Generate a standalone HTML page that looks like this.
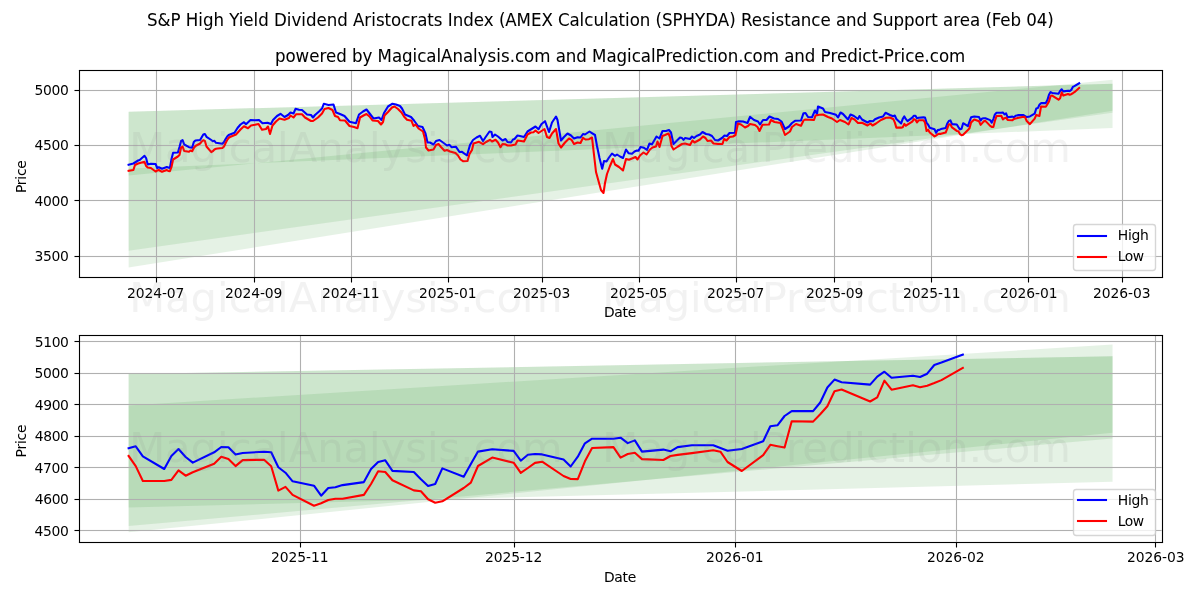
<!DOCTYPE html>
<html lang="en"><head><meta charset="utf-8"><title>S&amp;P High Yield Dividend Aristocrats Index (SPHYDA) Resistance and Support area</title>
<style>html,body{margin:0;padding:0;background:#fff;overflow:hidden}svg{display:block}</style></head>
<body>
<svg width="1200" height="600" viewBox="0 0 1200 600">
<rect width="1200" height="600" fill="#fff"/>
<clipPath id="c1"><rect x="79.4" y="70.33" width="1082.36" height="206.56"/></clipPath>
<g clip-path="url(#c1)">
<path d="M128.6 111.7 L1112.57 83.85 L1112.57 110.73 L128.6 267.5 Z" fill="#008000" fill-opacity="0.1"/>
<path d="M128.6 111.7 L1112.57 83.85 L1112.57 112.72 L128.6 250.7 Z" fill="#008000" fill-opacity="0.1"/>
<path d="M128.6 175.6 L1112.57 79.72 L1112.57 127.93 L128.6 168.5 Z" fill="#008000" fill-opacity="0.1"/>
<path d="M156.5 276.89V70.33M254.5 276.89V70.33M351.5 276.89V70.33M448.5 276.89V70.33M542.5 276.89V70.33M639.5 276.89V70.33M736.5 276.89V70.33M834.5 276.89V70.33M931.5 276.89V70.33M1028.5 276.89V70.33M1122.5 276.89V70.33" fill="none" stroke="#b0b0b0" stroke-width="1.111" stroke-linecap="square"/>
<path d="M79.4 256.5H1161.76M79.4 200.5H1161.76M79.4 145.5H1161.76M79.4 90.5H1161.76" fill="none" stroke="#b0b0b0" stroke-width="1"/>
<path d="M79.4 256.5H1161.76M79.4 200.5H1161.76M79.4 145.5H1161.76M79.4 90.5H1161.76" fill="none" stroke="#b0b0b0" stroke-width="3" stroke-opacity="0.0556"/>
</g>
<path d="M156.5 277.5v5M254.5 277.5v5M351.5 277.5v5M448.5 277.5v5M542.5 277.5v5M639.5 277.5v5M736.5 277.5v5M834.5 277.5v5M931.5 277.5v5M1028.5 277.5v5M1122.5 277.5v5" fill="none" stroke="#000" stroke-width="1.111"/>
<path d="M79.5 256.5h-5M79.5 200.5h-5M79.5 145.5h-5M79.5 90.5h-5" fill="none" stroke="#000" stroke-width="1"/>
<path d="M79.5 256.5h-5M79.5 200.5h-5M79.5 145.5h-5M79.5 90.5h-5" fill="none" stroke="#000" stroke-width="3" stroke-opacity="0.0556"/>
<g style="font-family:'DejaVu Sans','Liberation Sans',sans-serif;font-size:13.889px" fill="#000">
<text transform="translate(0 297.66) scale(1 1.05)" x="126.94 135.69 144.44 153.19 161.94 166.81 175.56">2024-07</text>
<text transform="translate(0 297.66) scale(1 1.05)" x="224.93 233.68 242.43 251.18 259.93 264.8 273.55">2024-09</text>
<text x="322.08 330.83 339.58 348.33 357.08 361.96 370.83" y="297.66">2024-11</text>
<text transform="translate(0 297.66) scale(1 1.03)" x="419.11 427.86 436.61 445.36 454.11 458.99 467.74">2025-01</text>
<text transform="translate(0 297.66) scale(1 1.05)" x="512.96 521.71 530.46 539.21 547.96 552.84 561.59">2025-03</text>
<text transform="translate(0 297.66) scale(1 1.05)" x="609.93 618.68 627.43 636.18 644.93 649.8 658.55">2025-05</text>
<text transform="translate(0 297.66) scale(1 1.07)" x="706.89 715.64 724.39 733.14 741.89 746.77 755.52">2025-07</text>
<text transform="translate(834.63 297.66) scale(1 1.05)" text-anchor="middle" textLength="57.5" lengthAdjust="spacing">2025-09</text>
<text transform="translate(931.85 297.66) scale(1 1.03)" text-anchor="middle" textLength="57.62" lengthAdjust="spacing">2025-11</text>
<text transform="translate(0 297.66) scale(1 1.03)" x="1000 1008.75 1017.5 1026.25 1035.13 1040 1048.75">2026-01</text>
<text transform="translate(1121.85 297.66) scale(1 1.03)" text-anchor="middle" textLength="57.5" lengthAdjust="spacing">2026-03</text>
<text transform="translate(68.93 260.88) scale(1 1.05)" text-anchor="end" textLength="34.5" lengthAdjust="spacing">3500</text>
<text x="68.93" y="205.56" text-anchor="end" textLength="34.5" lengthAdjust="spacing">4000</text>
<text transform="translate(68.93 149.73) scale(1 1.05)" text-anchor="end" textLength="34.5" lengthAdjust="spacing">4500</text>
<text transform="translate(68.93 94.9) scale(1 1.07)" text-anchor="end" textLength="34.5" lengthAdjust="spacing">5000</text>
<text transform="translate(620.08 317.16) scale(1 1.05)" text-anchor="middle" textLength="32.38" lengthAdjust="spacing" stroke="#000" stroke-width="0.05">Date</text>
<text transform="translate(25.64 176.61) rotate(-90)" text-anchor="middle" textLength="32.88" lengthAdjust="spacing">Price</text>
</g>
<g clip-path="url(#c1)" fill="none" stroke-width="2.083" stroke-linejoin="round" stroke-linecap="square">
<path d="M128.6 164.7 L133.4 163.5 L138.1 160.5 L139.7 160 L144.5 155.8 L146.1 158 L147.7 164.5 L150.9 163.8 L155.6 164 L157.2 168 L158.8 167.2 L162 168.7 L166.8 167 L168.3 167.5 L169.9 168 L171.5 159 L173.1 152.8 L177.9 152.5 L179.5 147 L181.1 141 L182.6 140.2 L184.2 144.5 L189 147.2 L192.2 147.8 L193.8 142 L195.4 140.5 L200.1 140 L203.3 134.5 L204.9 134 L206.5 136.8 L211.3 140 L212.8 141.2 L214.4 140.8 L216 142.8 L217.6 143 L222.4 143.8 L224 142 L225.6 139 L227.2 136.5 L228.7 135 L230 134.5 L234.5 132.8 L237.5 128 L240.5 124.5 L244 122.2 L246 124.2 L250.5 120 L255 120.2 L259 120 L262.5 123.3 L267.5 122.8 L271 124 L273 120 L277 116 L280.5 113.8 L284.5 117 L288 115 L290.5 112.5 L293.5 113.5 L295.5 108.8 L299 109.8 L302 110 L307 114.5 L311 115 L313 117.5 L315 115 L319 111.5 L322 108.5 L323.8 103.8 L328.5 105 L333.5 104.5 L336 112.5 L340 114 L344.5 116 L349.5 121.8 L356 123.2 L359 114.5 L363 111.5 L366.5 109.5 L370 114 L373.5 118.5 L379 117.5 L381.5 120 L384 113 L388 106.5 L392.5 103.7 L396 104.5 L400 106 L402 108.5 L405 114.5 L411 117 L414 120.5 L418 126 L422.5 127 L425.5 133.5 L427.5 142.5 L430 142.5 L433.5 144.5 L436 141 L439.5 140 L443 142.5 L447 145.5 L449.5 144.8 L451.5 147.2 L456 146.8 L459.5 152 L462 151.8 L467 155.5 L470 145 L473 140 L476.5 137.5 L480 135.8 L483 141 L486 136.5 L489.5 131.5 L491.5 132 L492.5 137 L495 134.5 L498 136.5 L502.5 140.5 L505.5 139 L507.5 142 L511 142.5 L513 139.5 L514.5 139 L517.5 135.5 L520 136 L524 137 L527.5 131.5 L531.5 129 L535.5 126.5 L538.5 129.2 L541.5 124 L545 121.2 L549 132 L552 122.5 L556 116.5 L557.5 120 L561 140.5 L564 137 L567.5 133.5 L571 135.5 L574 138.5 L577.5 137.2 L580.5 137.5 L583 134 L585 134.5 L589.5 131.5 L591.5 132.8 L595 135 L597 146 L599.5 158 L602.2 168.8 L604 161 L606.5 161.5 L609 157.5 L612 153.5 L615 155.8 L617 154.5 L620 156.5 L623 158 L626 149.5 L628.5 153.2 L632 153.8 L634.5 151.5 L637 150.5 L638.5 150.8 L640.5 147 L644 147.8 L647 149.8 L649.5 143.5 L652 144.2 L654.5 140 L656.5 136.5 L659.5 138.5 L662.5 131 L666 131 L669 130 L671 132.5 L673.5 144 L676.5 141 L680 137.5 L682 138 L683.5 140 L685 138 L690 139 L692 136.5 L694 138 L696.5 136 L700 134.5 L702.5 132 L706 134 L709 134.5 L712 136 L715 140 L718 140.5 L722 138 L724.5 135.5 L727 136 L729.5 133 L735 132.8 L736 122 L739 121.2 L743 121.5 L747.5 123 L750 116.8 L754 120 L758 121.5 L760 124.5 L763 120 L766.5 120 L769.5 116.5 L774 118.5 L778 119 L781.5 121.5 L785 129 L789 126.5 L792 123 L795 120.8 L801 120.5 L803.5 113.2 L805.5 113 L808 117 L812 117.2 L815 110.5 L817 114 L818 106.5 L823 108.5 L825 112 L830 113 L836 114.8 L838 117.5 L840.5 112.5 L843 114 L848 119.5 L850.5 114.5 L854 116 L858 119 L859.5 116 L862 119.5 L867.5 122.5 L870 121 L873 121.2 L875 119.2 L879 117.5 L883 116.5 L885.5 112.8 L890 115 L893.2 116.16 L894.79 115.46 L896.38 118.97 L901.15 123.44 L902.74 118.83 L904.33 116.41 L905.92 119.22 L907.51 121.19 L912.28 117.57 L913.87 115.71 L915.45 115.81 L917.04 118.38 L918.63 117.82 L923.4 117.36 L924.99 117.53 L926.58 122.8 L928.17 124.74 L929.76 127.76 L934.53 129.3 L936.12 132.81 L937.71 130.11 L939.3 129.86 L940.89 129.09 L945.66 128.04 L947.25 123.47 L948.84 120.98 L950.43 120.38 L952.02 124.1 L956.78 124.49 L958.37 127.05 L959.96 129.41 L961.55 128.7 L963.14 123.22 L967.91 126.14 L969.5 121.71 L971.09 117.32 L974.27 116.52 L979.04 117.08 L980.63 120.52 L982.22 118.41 L983.81 118.17 L985.4 118.31 L990.17 120.13 L991.76 122.56 L993.35 119.11 L994.93 114.41 L996.52 112.79 L1001.29 112.79 L1002.88 112.44 L1004.47 114.34 L1006.06 113.39 L1007.65 117.32 L1012.42 116.62 L1014.01 117.22 L1015.6 115.74 L1018.78 115.11 L1023.55 115.08 L1025.14 116.06 L1026.73 117.04 L1029.91 116.41 L1034.68 113.67 L1036.26 108.44 L1037.85 108.09 L1039.44 104.82 L1041.03 103.1 L1045.8 103.1 L1047.39 100.08 L1048.98 94.81 L1050.57 92.03 L1052.16 92.95 L1058.52 93.79 L1060.11 90.98 L1061.7 89.26 L1063.29 91.36 L1068.06 90.66 L1069.65 91.12 L1071.24 89.96 L1072.83 86.9 L1074.42 86.06 L1079.18 83.29" stroke="#0000ff"/>
<path d="M128.6 170.8 L133.4 170 L135 165 L138.1 163.5 L144.5 161.8 L146.1 166 L147.7 167.5 L150.9 168 L155.6 171.5 L157.2 170.5 L158.8 170 L162 171.8 L166.8 170 L168.3 171 L169.9 171.2 L171.5 167 L173.1 159.5 L177.9 156.5 L179.5 155 L181.1 147.5 L182.6 146.5 L184.2 151 L189 151.8 L190.6 150.5 L192.2 151.2 L193.8 148 L195.4 146 L200.1 143.5 L201.7 141.5 L203.3 140.2 L204.9 141 L206.5 146.5 L211.3 152.2 L212.8 151.2 L214.4 149.5 L216 148.8 L217.6 148.5 L222.4 148 L224 146.5 L225.6 143 L227.2 140 L228.7 137.8 L230 137 L236 134.5 L240.5 129.5 L244 126.2 L248 128.2 L251 125.5 L255 124.8 L258.5 124 L262 129.7 L266 129 L268 126.5 L270 134 L272.5 125.5 L276 121.5 L279.5 118.5 L284.5 119.8 L289 118 L290.5 115.5 L293.5 117.5 L296 114.3 L302 114.2 L305 117.5 L311 121 L313 121 L318 117.5 L322 113.5 L324.5 109 L328.5 108 L332.5 110 L335 116 L338 117 L340 120.2 L345 120.5 L349.5 126 L354 127 L357.5 128.2 L360 117.5 L363.5 115.5 L366.5 114 L369.5 116.5 L372.5 120.5 L378 121 L381 124.5 L383 122 L384.5 115.5 L388 112 L392 107.5 L394.5 106.5 L398 109 L401.5 112.5 L404 116.5 L407 119.8 L411.5 120.8 L413.5 126 L415.5 124.5 L418.5 128.5 L423 131.5 L425 139 L426 147.5 L428.5 150.5 L433.5 149.5 L436 145 L438.5 144 L441 147 L444.5 150.8 L447 150 L450 151.5 L455.5 153 L458 155.5 L460.5 159.5 L463 161.2 L467.5 161 L469.5 154 L472 150 L473.5 143.5 L479 141.8 L483 144.2 L486 142 L490 139.8 L492 141.5 L495.5 139.8 L498 142.5 L500.5 147.2 L502.5 144 L505 144.2 L507.5 145.5 L511 145.5 L515.5 144.5 L517.5 140.5 L521 141 L524 141.5 L527.5 134.5 L531 132.5 L533.5 132.2 L535.5 130.5 L538.5 133 L541.5 131 L544.5 129 L547 137 L549.5 138 L552 133.5 L556 129 L558.5 143.5 L561 147.5 L565 142.5 L569 138.5 L571.5 139.8 L574 144 L577.5 142.5 L580.5 143 L583 137.8 L585.5 139.5 L589 139.2 L592 137.5 L596 172 L598.5 181 L601 190 L603.5 193 L605 183 L607 174 L610 166 L613 159 L615 164.5 L619 167 L623 170.5 L626 159 L629 159.8 L632 158.5 L635.5 157 L637.5 159.5 L640 155.5 L643.5 152.5 L646.5 154.5 L650 149.5 L652.5 147.5 L656 146.5 L657.5 141.5 L659.5 147 L662.5 136 L665 135 L668.5 133.5 L670 137 L671.5 146 L673.5 149.5 L678 146.5 L682 144 L685 143.5 L690 145 L692.5 140.5 L694.5 142.5 L700 139.5 L703 136.5 L705.5 138 L707.5 141 L711 140.5 L713.5 143.5 L718 144 L722.5 144 L724 139 L726.5 140.5 L729.5 137 L733 136.5 L735.5 135 L738 123.5 L741 124.5 L745 127.5 L748 126 L750 124 L755 125 L757.5 127 L759.5 131 L762.5 124.8 L769 124.5 L771 120 L774.5 122 L780.5 123 L782.5 128 L785 135 L790 131.5 L792 127 L796 124 L801 125.8 L803.5 120.5 L805 119.5 L814 120 L815.5 115.5 L819.5 114.8 L823 114.5 L828 117 L832 118.5 L837 122 L840 120 L845 122 L848.5 124.5 L851.5 118 L854.5 119.5 L858 123 L862 122.8 L867.5 125.5 L870.5 123.5 L872.5 125.5 L876 123.5 L881 120 L886 117.8 L890 117.5 L893 119 L893.2 118.83 L894.79 122.42 L896.38 127.65 L901.15 127.65 L902.74 127.26 L904.33 123.89 L905.92 125.79 L907.51 124.59 L912.28 121.57 L913.87 119.11 L915.45 119.92 L917.04 122.42 L918.63 120.31 L923.4 120.17 L924.99 122.49 L926.58 131.02 L928.17 129.72 L929.76 132.53 L934.53 136.33 L936.12 135.48 L937.71 134.32 L939.3 133.87 L940.89 133.87 L945.66 132.53 L947.25 128.7 L948.84 124.24 L950.43 124.49 L952.02 127.4 L956.78 130.95 L958.37 131.27 L959.96 134.08 L961.55 135.27 L963.14 134.78 L967.91 130.11 L969.5 128.25 L971.09 122.38 L974.27 119.43 L979.04 121.22 L980.63 124.81 L982.22 123.08 L983.81 121.29 L985.4 120.87 L990.17 125.89 L991.76 126.95 L993.35 126.98 L994.93 120.73 L996.52 116.06 L1001.29 115.74 L1002.88 119.43 L1004.47 118.17 L1006.06 117.71 L1007.65 119.96 L1012.42 120.27 L1014.01 118.87 L1015.6 118.48 L1018.78 117.85 L1023.55 116.83 L1025.14 117.36 L1026.73 120.98 L1029.91 124.14 L1034.68 118.59 L1036.26 114.93 L1037.85 115.43 L1039.44 115.92 L1041.03 106.64 L1045.8 106.79 L1047.39 104.19 L1048.98 101.38 L1050.57 96.14 L1052.16 95.51 L1058.52 99.72 L1060.11 98.25 L1061.7 92.42 L1063.29 95.58 L1068.06 94.03 L1069.65 94.74 L1071.24 94.17 L1072.83 93.23 L1074.42 92.21 L1079.18 87.92" stroke="#ff0000"/>
</g>
<path d="M79.5 277.5V70.5M1162.5 277.5V70.5" fill="none" stroke="#000" stroke-width="1.111" stroke-linecap="square"/>
<path d="M78.94 277.5H1163.06M78.94 70.5H1163.06" fill="none" stroke="#000" stroke-width="1"/>
<path d="M78.94 277.5H1163.06M78.94 70.5H1163.06" fill="none" stroke="#000" stroke-width="3" stroke-opacity="0.0556"/>
<rect x="1073.5" y="224.5" width="82" height="46" rx="2.778" ry="2.778" fill="#fff" fill-opacity="0.8" stroke="#ccc" stroke-opacity="0.8" stroke-width="1.389"/>
<path d="M1078 236H1106" stroke="#0000ff" stroke-width="2.083" stroke-linecap="square" fill="none"/>
<path d="M1078 257H1106" stroke="#ff0000" stroke-width="2.083" stroke-linecap="square" fill="none"/>
<g style="font-family:'DejaVu Sans','Liberation Sans',sans-serif;font-size:13.889px" fill="#000"><text x="1117.84" y="239.61" text-anchor="start" textLength="30.88" lengthAdjust="spacing">High</text><text transform="translate(1117.84 260.5) scale(1 1.05)" text-anchor="start" textLength="26.38" lengthAdjust="spacing">Low</text></g>
<g style="font-family:'DejaVu Sans','Liberation Sans',sans-serif;font-size:16.667px" fill="#000"><text transform="translate(0 61.5) scale(1 1.05)" x="274.9 285.4 295.52 309.15 319.4 325.9 336.15 346.65 351.9 362.4 372.27 377.52 391.9 402.02 412.52 417.15 426.27 436.4 441.02 452.4 462.9 473.02 477.65 487.52 496.27 500.9 509.65 514.9 524.02 534.15 550.4 555.65 565.77 576.27 586.77 592.02 606.4 616.52 627.02 631.65 640.77 650.9 655.52 665.4 671.9 682.15 692.65 697.27 706.4 712.9 717.52 727.65 738.15 743.4 752.52 762.65 778.9 784.15 794.27 804.77 815.27 820.52 830.4 836.9 847.15 857.65 862.27 871.4 877.9 883.77 893.65 900.52 905.15 914.27 924.52 929.77 938.9 949.02" stroke="#000" stroke-width="0.05">powered by MagicalAnalysis.com and MagicalPrediction.com and Predict-Price.com</text></g>
<clipPath id="c2"><rect x="79.4" y="335.17" width="1082.36" height="206.56"/></clipPath>
<g clip-path="url(#c2)">
<path d="M128.6 373.98 L1112.57 356.3 L1112.57 432.84 L128.6 532.33 Z" fill="#008000" fill-opacity="0.1"/>
<path d="M128.6 373.98 L1112.57 356.3 L1112.57 438.5 L128.6 526.07 Z" fill="#008000" fill-opacity="0.1"/>
<path d="M128.6 405.41 L1112.57 344.56 L1112.57 481.8 L128.6 507.55 Z" fill="#008000" fill-opacity="0.1"/>
<path d="M300.5 541.72V335.17M514.5 541.72V335.17M735.5 541.72V335.17M956.5 541.72V335.17M1155.5 541.72V335.17" fill="none" stroke="#b0b0b0" stroke-width="1.111" stroke-linecap="square"/>
<path d="M79.4 530.5H1161.76M79.4 499.5H1161.76M79.4 467.5H1161.76M79.4 436.5H1161.76M79.4 404.5H1161.76M79.4 373.5H1161.76M79.4 341.5H1161.76" fill="none" stroke="#b0b0b0" stroke-width="1"/>
<path d="M79.4 530.5H1161.76M79.4 499.5H1161.76M79.4 467.5H1161.76M79.4 436.5H1161.76M79.4 404.5H1161.76M79.4 373.5H1161.76M79.4 341.5H1161.76" fill="none" stroke="#b0b0b0" stroke-width="3" stroke-opacity="0.0556"/>
</g>
<path d="M300.5 542.5v5M514.5 542.5v5M735.5 542.5v5M956.5 542.5v5M1155.5 542.5v5" fill="none" stroke="#000" stroke-width="1.111"/>
<path d="M79.5 530.5h-5M79.5 499.5h-5M79.5 467.5h-5M79.5 436.5h-5M79.5 404.5h-5M79.5 373.5h-5M79.5 341.5h-5" fill="none" stroke="#000" stroke-width="1"/>
<path d="M79.5 530.5h-5M79.5 499.5h-5M79.5 467.5h-5M79.5 436.5h-5M79.5 404.5h-5M79.5 373.5h-5M79.5 341.5h-5" fill="none" stroke="#000" stroke-width="3" stroke-opacity="0.0556"/>
<g style="font-family:'DejaVu Sans','Liberation Sans',sans-serif;font-size:13.889px" fill="#000">
<text transform="translate(299.73 561.5) scale(1 1.03)" text-anchor="middle" textLength="57.62" lengthAdjust="spacing">2025-11</text>
<text transform="translate(513.63 561.5) scale(1 1.05)" text-anchor="middle" textLength="57.5" lengthAdjust="spacing">2025-12</text>
<text x="706.1 714.85 723.6 732.35 741.23 746.1 754.85" y="561.5">2026-01</text>
<text transform="translate(0 561.5) scale(1 1.05)" x="926.95 935.7 944.45 953.2 962.08 966.95 975.7">2026-02</text>
<text transform="translate(1155.85 561.5) scale(1 1.03)" text-anchor="middle" textLength="57.5" lengthAdjust="spacing">2026-03</text>
<text transform="translate(68.93 535.53) scale(1 1.05)" text-anchor="end" textLength="34.5" lengthAdjust="spacing">4500</text>
<text transform="translate(68.93 503.53) scale(1 1.07)" text-anchor="end" textLength="34.12" lengthAdjust="spacing">4600</text>
<text transform="translate(68.93 472.53) scale(1 1.05)" text-anchor="end" textLength="34.5" lengthAdjust="spacing">4700</text>
<text transform="translate(68.93 440.53) scale(1 1.03)" text-anchor="end" textLength="34.12" lengthAdjust="spacing">4800</text>
<text transform="translate(68.93 409.53) scale(1 1.03)" text-anchor="end" textLength="34.12" lengthAdjust="spacing">4900</text>
<text transform="translate(68.93 377.53) scale(1 1.07)" text-anchor="end" textLength="34.5" lengthAdjust="spacing">5000</text>
<text transform="translate(68.93 346.52) scale(1 1.03)" text-anchor="end" textLength="34.12" lengthAdjust="spacing">5100</text>
<text transform="translate(620.08 581.5) scale(1 1.05)" text-anchor="middle" textLength="32.38" lengthAdjust="spacing" stroke="#000" stroke-width="0.05">Date</text>
<text transform="translate(25.64 440.94) rotate(-90)" text-anchor="middle" textLength="32.88" lengthAdjust="spacing">Price</text>
</g>
<g clip-path="url(#c2)" fill="none" stroke-width="2.083" stroke-linejoin="round" stroke-linecap="square">
<path d="M128.6 448.3 L135.73 446.3 L142.86 456.3 L164.25 469 L171.38 455.9 L178.51 449 L185.64 457 L192.77 462.6 L214.16 452.3 L221.29 447 L228.42 447.3 L235.55 454.6 L242.68 453 L264.07 451.7 L271.2 452.2 L278.33 467.2 L285.46 472.7 L292.6 481.3 L313.99 485.7 L321.12 495.7 L328.25 488 L335.38 487.3 L342.51 485.1 L363.9 482.1 L371.03 469.1 L378.16 462 L385.29 460.3 L392.42 470.9 L413.81 472 L420.94 479.3 L428.07 486 L435.2 484 L442.33 468.4 L463.72 476.7 L470.85 464.1 L477.98 451.6 L492.24 449.3 L513.63 450.9 L520.76 460.7 L527.89 454.7 L535.02 454 L542.15 454.4 L563.54 459.6 L570.67 466.5 L577.8 456.7 L584.93 443.3 L592.06 438.7 L613.45 438.7 L620.58 437.7 L627.71 443.1 L634.84 440.4 L641.97 451.6 L663.36 449.6 L670.49 451.3 L677.62 447.1 L691.89 445.3 L713.28 445.2 L720.41 448 L727.54 450.8 L741.8 449 L763.19 441.2 L770.32 426.3 L777.45 425.3 L784.58 416 L791.71 411.1 L813.1 411.1 L820.23 402.5 L827.36 387.5 L834.49 379.6 L841.62 382.2 L870.14 384.6 L877.27 376.6 L884.4 371.7 L891.53 377.7 L912.92 375.7 L920.05 377 L927.18 373.7 L934.31 365 L941.44 362.6 L962.83 354.7" stroke="#0000ff"/>
<path d="M128.6 455.9 L135.73 466.1 L142.86 481 L164.25 481 L171.38 479.9 L178.51 470.3 L185.64 475.7 L192.77 472.3 L214.16 463.7 L221.29 456.7 L228.42 459 L235.55 466.1 L242.68 460.1 L264.07 459.7 L271.2 466.3 L278.33 490.6 L285.46 486.9 L292.6 494.9 L313.99 505.7 L321.12 503.3 L328.25 500 L335.38 498.7 L342.51 498.7 L363.9 494.9 L371.03 484 L378.16 471.3 L385.29 472 L392.42 480.3 L413.81 490.4 L420.94 491.3 L428.07 499.3 L435.2 502.7 L442.33 501.3 L463.72 488 L470.85 482.7 L477.98 466 L492.24 457.6 L513.63 462.7 L520.76 472.9 L527.89 468 L535.02 462.9 L542.15 461.7 L563.54 476 L570.67 479 L577.8 479.1 L584.93 461.3 L592.06 448 L613.45 447.1 L620.58 457.6 L627.71 454 L634.84 452.7 L641.97 459.1 L663.36 460 L670.49 456 L677.62 454.9 L691.89 453.1 L713.28 450.2 L720.41 451.7 L727.54 462 L741.8 471 L763.19 455.2 L770.32 444.8 L777.45 446.2 L784.58 447.6 L791.71 421.2 L813.1 421.6 L820.23 414.2 L827.36 406.2 L834.49 391.3 L841.62 389.5 L870.14 401.5 L877.27 397.3 L884.4 380.7 L891.53 389.7 L912.92 385.3 L920.05 387.3 L927.18 385.7 L934.31 383 L941.44 380.1 L962.83 367.9" stroke="#ff0000"/>
</g>
<path d="M79.5 542.5V335.5M1162.5 542.5V335.5" fill="none" stroke="#000" stroke-width="1.111" stroke-linecap="square"/>
<path d="M78.94 542.5H1163.06M78.94 335.5H1163.06" fill="none" stroke="#000" stroke-width="1"/>
<path d="M78.94 542.5H1163.06M78.94 335.5H1163.06" fill="none" stroke="#000" stroke-width="3" stroke-opacity="0.0556"/>
<rect x="1073.5" y="489.5" width="82" height="46" rx="2.778" ry="2.778" fill="#fff" fill-opacity="0.8" stroke="#ccc" stroke-opacity="0.8" stroke-width="1.389"/>
<path d="M1078 500H1106" stroke="#0000ff" stroke-width="2.083" stroke-linecap="square" fill="none"/>
<path d="M1078 521H1106" stroke="#ff0000" stroke-width="2.083" stroke-linecap="square" fill="none"/>
<g style="font-family:'DejaVu Sans','Liberation Sans',sans-serif;font-size:13.889px" fill="#000"><text x="1117.84" y="504.95" text-anchor="start" textLength="30.88" lengthAdjust="spacing">High</text><text transform="translate(1117.84 525.83) scale(1 1.05)" text-anchor="start" textLength="26.38" lengthAdjust="spacing">Low</text></g>
<g style="font-family:'DejaVu Sans','Liberation Sans',sans-serif;font-size:16.667px" fill="#000"><text transform="translate(0 25.66) scale(1 1.05)" x="147.12 157.62 170.5 180.62 185.88 198.38 203 213.5 224 229.25 238.75 243.38 253.62 258.25 268.75 274 286.88 291.5 301.38 306 316.5 326.75 337.25 347.75 353 364.38 371.25 375.88 384.62 391.12 401.25 410.38 417.25 427.38 433.88 442.62 447.88 452.75 463.25 473.75 483.75 493.62 498.88 505.25 516.62 531 541.38 552.75 558 569.5 579.62 584.25 593.38 603.88 608.5 618.62 625.12 629.75 639.88 650.38 655.62 662 672.5 682.62 695.12 705.25 717.88 729.25 735.75 741 751.88 762.12 770.88 775.5 784.25 790.75 800.88 811.38 820.5 830.75 836 846.12 856.62 867.12 872.38 882.88 893.38 903.88 914.38 924.5 931.38 937.88 943.12 953.25 959.75 970 980.12 985.38 991.75 1000.38 1010.62 1021.12 1026.38 1036.88 1047.38" stroke="#000" stroke-width="0.05">S&amp;P High Yield Dividend Aristocrats Index (AMEX Calculation (SPHYDA) Resistance and Support area (Feb 04)</text></g>
<g style="font-family:'DejaVu Sans','Liberation Sans',sans-serif;font-size:41.667px;white-space:pre" fill="#808080" fill-opacity="0.1">
<text x="600" y="461.5" text-anchor="middle" xml:space="preserve">MagicalAnalysis.com   MagicalPrediction.com</text>
<text x="600" y="311.5" text-anchor="middle" xml:space="preserve">MagicalAnalysis.com   MagicalPrediction.com</text>
<text x="600" y="161.5" text-anchor="middle" xml:space="preserve">MagicalAnalysis.com   MagicalPrediction.com</text>
</g>
</svg>
</body></html>
